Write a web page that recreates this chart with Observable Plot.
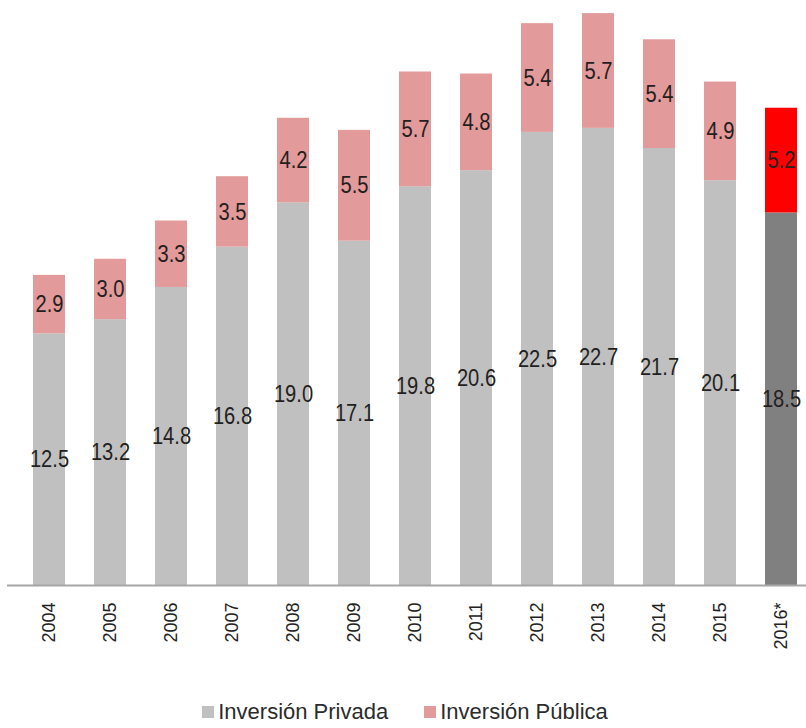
<!DOCTYPE html>
<html>
<head>
<meta charset="utf-8">
<script src="https://cdn.jsdelivr.net/npm/d3@7"></script>
<script src="https://cdn.jsdelivr.net/npm/@observablehq/plot@0.6"></script>
<style>
  body { margin: 0; background: #fff; }
  #chart { width: 806px; }
  #legend { width: 806px; display: flex; justify-content: center; margin-top: 27px; padding-left: 4px; box-sizing: border-box; }
  #legend .lg-swatches { font-family: "Liberation Sans", Arial, sans-serif; font-size: 22px; color: #2b2b2b; margin: 0; min-height: 0; justify-content: center; }
  #legend .lg-swatches-wrap .lg-swatch { margin-right: 36px; }
  #legend .lg-swatches-wrap .lg-swatch:last-child { margin-right: 0; }
  #legend .lg-swatch > svg { margin-right: 4px; }
</style>
</head>
<body>
<div id="chart"></div>
<div id="legend"></div>
<script>
const years = ["2004", "2005", "2006", "2007", "2008", "2009", "2010", "2011", "2012", "2013", "2014", "2015", "2016*"];
const privada = [12.5, 13.2, 14.8, 16.8, 19.0, 17.1, 19.8, 20.6, 22.5, 22.7, 21.7, 20.1, 18.5];
const publica = [2.9, 3.0, 3.3, 3.5, 4.2, 5.5, 5.7, 4.8, 5.4, 5.7, 5.4, 4.9, 5.2];
const series = ["Inversión Privada", "Inversión Pública"];
const seriesColors = ["#c0c0c0", "#e29a9a"];
const highlightYear = "2016*";
const highlightColors = ["#808080", "#ff0000"];

const rows = [];
years.forEach((year, i) => {
  const hl = year === highlightYear;
  rows.push({year, serie: series[0], value: privada[i], fill: hl ? highlightColors[0] : seriesColors[0]});
  rows.push({year, serie: series[1], value: publica[i], fill: hl ? highlightColors[1] : seriesColors[1]});
});

const chart = Plot.plot({
  width: 806,
  height: 672,
  marginTop: 0,
  marginLeft: 7,
  marginRight: 0,
  marginBottom: 87,
  style: {fontFamily: "'Liberation Sans', Arial, sans-serif", fontSize: "18px", color: "#222", background: "#fff"},
  x: {domain: years, paddingInner: 0.48, paddingOuter: 0.219, align: 0.74, label: null, tickSize: 0, tickPadding: 17, tickRotate: -90},
  y: {domain: [0, 29.05], axis: null},
  color: {type: "identity"},
  marks: [
    Plot.barY(rows, Plot.stackY({x: "year", y: "value", fill: "fill"})),
    Plot.ruleY([0], {stroke: "#a6a6a6", strokeWidth: 2}),
    Plot.text(rows, Plot.stackY({
      x: "year", y: "value",
      text: d => d.value.toFixed(1),
      fontFamily: "'Liberation Sans', Arial, sans-serif",
      fontSize: 24,
      fill: "#231f20"
    }))
  ]
});
// condensed look of the data labels (narrow font)
chart.querySelectorAll('g[aria-label="text"] text').forEach(t => {
  const tr = t.getAttribute("transform") || "";
  t.setAttribute("transform", tr + " scale(0.84,1)");
});
document.getElementById("chart").appendChild(chart);

const legend = Plot.legend({
  color: {type: "ordinal", domain: series, range: seriesColors},
  swatchSize: 12,
  className: "lg"
});
document.getElementById("legend").appendChild(legend);
</script>
</body>
</html>
